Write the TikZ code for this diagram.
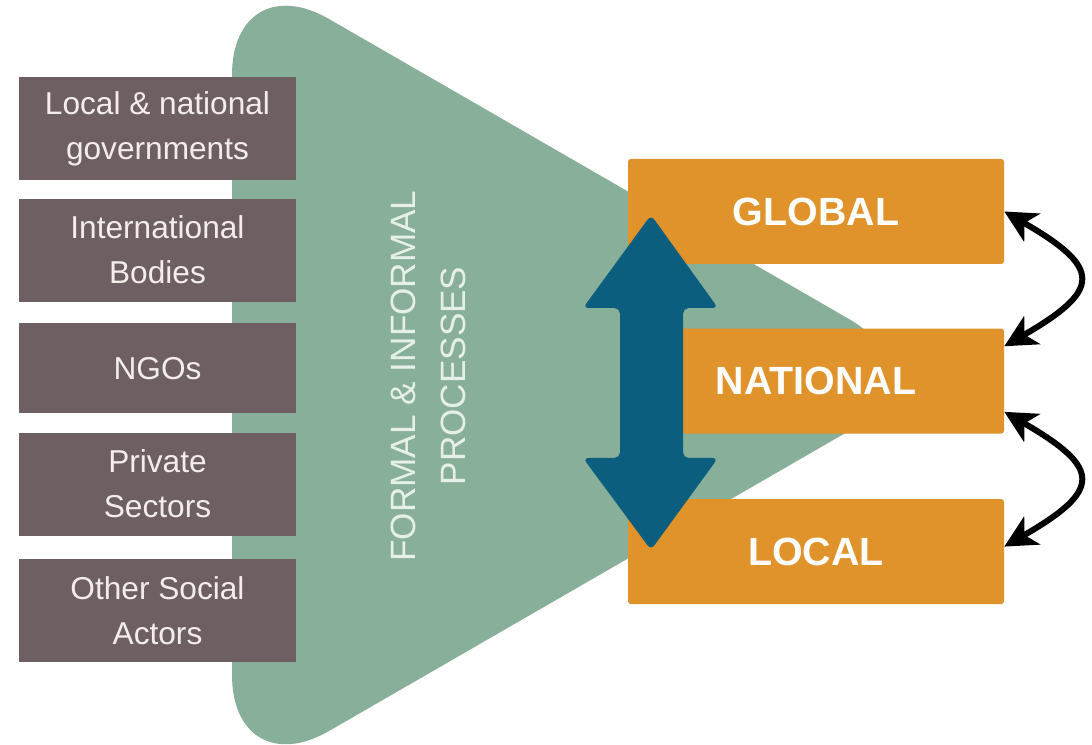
\documentclass[tikz,border=0pt]{standalone}
\usepackage{fontspec}
\setmainfont{Liberation Sans}
\usepackage{tikz}
\usetikzlibrary{arrows.meta, positioning}
\definecolor{pgreen}{HTML}{88AF99}
\definecolor{pgrey}{HTML}{6E5F62}
\definecolor{porange}{HTML}{E0922B}
\definecolor{pblue}{HTML}{0C5E7E}
\definecolor{pcream}{HTML}{F4EEEA}
\definecolor{pmint}{HTML}{E6EFE8}

\begin{document}
\begin{tikzpicture}

\tikzstyle{actor} = [rectangle, fill=pgrey, text=pcream, minimum width=6.925cm, minimum height=2.575cm, inner sep=0pt, align=center, font=\fontsize{22.5}{32}\selectfont]
\tikzstyle{leveltext} = [text=white, font=\fontsize{28}{34}\selectfont\bfseries]
\tikzstyle{level} = [leveltext, rectangle, fill=porange, minimum width=9.4cm, minimum height=2.625cm, inner sep=0pt, rounded corners=2pt]
\tikzstyle{link} = [{Stealth[length=0.8cm, width=0.8cm, inset=0.22cm]}-{Stealth[length=0.8cm, width=0.8cm, inset=0.22cm]}, line width=0.15cm]

\useasboundingbox (0,0) rectangle (27.3,18.625);

% Funnel
\fill[pgreen, rounded corners=2.8cm] (5.8,19.55) -- (23.65,9.25) -- (5.8,-1.05) -- cycle;

% Actors
\node[actor] (govt) at (3.9375,15.4125) {Local \& national\\governments};
\node[actor, below=0.45cm of govt] (intl) {International\\Bodies};
\node[actor, below=0.525cm of intl, minimum height=2.25cm] (ngo) {NGOs};
\node[actor, below=0.475cm of ngo] (private) {Private\\Sectors};
\node[actor, below=0.575cm of private] (social) {Other Social\\Actors};

\node[rotate=90, align=center, text=pmint, font=\fontsize{25}{35.5}\selectfont] (proc) at (10.7,9.225) {FORMAL \& INFORMAL\\PROCESSES};

% Levels
\node[level] (global) at (20.4,13.3375) {GLOBAL};
\node[level, minimum width=8.05cm, below=1.6cm of global.south east, anchor=north east] (national) {};
\node[level, below=1.625cm of national.south east, anchor=north east] (local) {LOCAL};
\node[leveltext] (nationaltext) at (global |- national) {NATIONAL};

% Up and down
\fill[pblue, rounded corners=4pt] (16.275,13.25) -- (17.95,10.925) -- (17.075,10.925) -- (17.075,7.175) -- (17.95,7.175) -- (16.275,4.875) -- (14.575,7.175) -- (15.5,7.175) -- (15.5,10.925) -- (14.575,10.925) -- cycle;

\draw[link] (global.east) to[out=-30, in=30, looseness=2.15] ([yshift=-0.45cm]national.north east);
\draw[link] ([yshift=0.55cm]national.south east) to[out=-30, in=30, looseness=2.15] ([yshift=0.125cm]local.east);

\end{tikzpicture}
\end{document}
